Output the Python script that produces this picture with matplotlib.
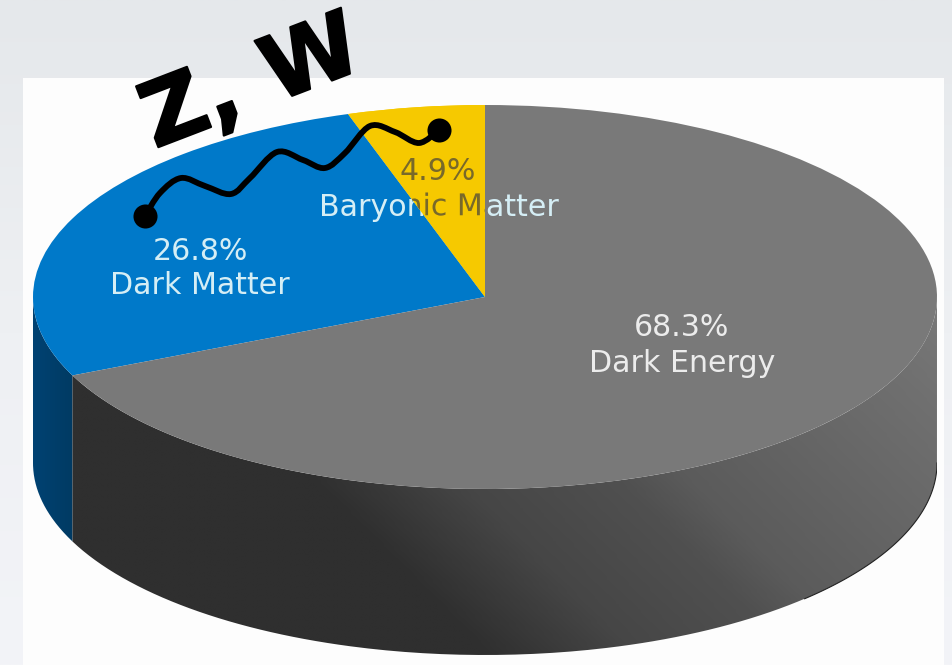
import numpy as np
import matplotlib
matplotlib.use("Agg")
import matplotlib.pyplot as plt
import matplotlib.patheffects as pe
from matplotlib.path import Path
from matplotlib.patches import Rectangle, PathPatch, Wedge
from matplotlib.colors import LinearSegmentedColormap
from matplotlib.font_manager import FontProperties
from matplotlib.textpath import TextPath
from matplotlib.transforms import IdentityTransform

# ---- data ----
categories = ["Baryonic Matter", "Dark Matter", "Dark Energy"]
percentages = [4.9, 26.8, 68.3]
top_colors = ["#f6c900", "#0079c9", "#797979"]
percent_labels = ["4.9%", "26.8%", "68.3%"]
boson_label = "Z, W"
squiggle_xs = [145, 160, 181, 205, 231, 250, 277, 303, 325, 345, 370, 395, 419, 439]
squiggle_ys = [216, 193, 178, 186, 194, 178, 152, 160, 168, 153, 126, 132, 143, 130]

W, H = 952, 665
cx, cy, rx, ry, depth_px = 485, 297, 452, 192, 166
fig = plt.figure(figsize=(W / 100, H / 100), dpi=100)

# page layer in pixel coordinates
bg = fig.add_axes([0, 0, 1, 1])
bg_cmap = LinearSegmentedColormap.from_list("bg", ["#e5e8eb", "#eef0f3", "#f3f4f8"])
bg.imshow(np.linspace(0, 1, 256)[:, None], extent=(0, W, H, 0), cmap=bg_cmap, aspect="auto", zorder=0)
bg.set_xlim(0, W)
bg.set_ylim(H, 0)
bg.axis("off")
bg.add_patch(Rectangle((23, 78), 921, 600, fc="#fdfdfd", ec="none", zorder=1))

# pie layer: unit circle squashed into the ellipse by the axes box
depth = depth_px / ry
left = (cx - rx) / W
bottom = (H - (cy + ry + depth_px)) / H
pie_ax = fig.add_axes([left, bottom, 2 * rx / W, (2 * ry + depth_px) / H])
wedges, _ = pie_ax.pie(percentages, colors=top_colors, startangle=90, counterclock=True, radius=1,
                       wedgeprops=dict(linewidth=0, zorder=5))
pie_ax.set_aspect("auto")
pie_ax.patch.set_alpha(0)

gray_cmap = LinearSegmentedColormap.from_list(
    "wall", [(0, "#2f2f2f"), (0.1875, "#464646"), (0.3875, "#505050"), (0.475, "#5b5b5b"),
             (0.875, "#707070"), (1, "#787878")])
blue_cmap = LinearSegmentedColormap.from_list("bwall", ["#004272", "#003a62", "#002e50"])


def wall(theta1, theta2, cmap, grad):
    t = np.radians(np.linspace(theta1, theta2, 200))
    xs = np.cos(t)
    ys = np.sin(t)
    poly = np.vstack([np.c_[xs, ys], np.c_[xs[::-1], ys[::-1] - depth]])
    patch = PathPatch(Path(np.vstack([poly, poly[:1]])), fc="none", ec="none", zorder=2)
    pie_ax.add_patch(patch)
    im = pie_ax.imshow(grad, extent=(-1, 1, -1 - depth, 1), cmap=cmap, vmin=0, vmax=1,
                       aspect="auto", origin="lower", zorder=2, interpolation="bilinear")
    im.set_clip_path(patch)


gx, gy = np.meshgrid(np.linspace(0, 1, 300), np.linspace(0, 1, 200))
for wedge, cm in zip(wedges, [None, blue_cmap, gray_cmap]):
    lo, hi = max(wedge.theta1 % 720, 180), min(wedge.theta2 % 720, 360)
    if hi <= lo:
        continue
    if cm is gray_cmap:
        grad = (2 * rx * gx + (2 * ry + depth_px) * gy - 622 + 170) / 800
    else:
        grad = gx / 0.09
    wall(lo, hi, cm, np.clip(grad, 0, 1))
pie_ax.set_xlim(-1, 1)
pie_ax.set_ylim(-1 - depth, 1)

# thin dark rim on the lower right of the wall
t = np.radians(np.linspace(315, 360, 100))
pie_ax.plot(np.cos(t), np.sin(t) - depth, color="#222222", lw=0.8, zorder=6)

# overlay layer in pixel coordinates
ov = fig.add_axes([0, 0, 1, 1])
ov.set_xlim(0, W)
ov.set_ylim(H, 0)
ov.axis("off")
ov.patch.set_alpha(0)

fs = 21.6
pale = "#d5eef5"
dark = "#78692a"
light = "#ececec"
ov.text(682, 328, percent_labels[2], ha="center", va="center", fontsize=fs, color=light, zorder=3)
ov.text(682, 364, categories[2], ha="center", va="center", fontsize=fs, color=light, zorder=3)
ov.text(200, 252, percent_labels[1], ha="center", va="center", fontsize=fs, color=pale, zorder=3)
ov.text(200, 286, categories[1], ha="center", va="center", fontsize=fs, color=pale, zorder=3)
ov.text(438, 171, percent_labels[0], ha="center", va="center", fontsize=fs, color=dark, zorder=6)
baryon = ov.text(439, 207, categories[0], ha="center", va="center", fontsize=fs, color=pale, zorder=3)

# the Baryonic Matter label turns dark where it crosses the yellow slice
overlay_wedge = Wedge((0, 0), 1, wedges[0].theta1, wedges[0].theta2, transform=pie_ax.transData,
                      fc=top_colors[0], ec="none", zorder=4)
ov.add_patch(overlay_wedge)
box = baryon.get_window_extent(fig.canvas.get_renderer())
tp = TextPath((0, 0), categories[0], size=fs * fig.dpi / 72, prop=FontProperties(family="DejaVu Sans"))
ext = tp.get_extents()
shifted = Path(tp.vertices + [box.x0 - ext.x0, box.y0 - ext.y0], tp.codes)
dark_part = PathPatch(shifted, fc=dark, ec="none", transform=IdentityTransform(), zorder=5)
ov.add_patch(dark_part)
dark_part.set_clip_path(overlay_wedge)

# squiggle boson line: smooth curve through the read points
pts = np.c_[squiggle_xs, squiggle_ys].astype(float)
padded = np.vstack([pts[0], pts, pts[-1]])
verts = [pts[0]]
codes = [Path.MOVETO]
for i in range(1, len(padded) - 2):
    verts += [padded[i] + (padded[i + 1] - padded[i - 1]) / 6,
              padded[i + 1] - (padded[i + 2] - padded[i]) / 6,
              padded[i + 1]]
    codes += [Path.CURVE4] * 3
ov.add_patch(PathPatch(Path(verts, codes), fc="none", ec="black", lw=4.2, capstyle="round", zorder=7))
ov.scatter([squiggle_xs[0], squiggle_xs[-1]], [squiggle_ys[0], squiggle_ys[-1]], s=300, color="black", lw=0, zorder=8)
ov.text(252, 85, boson_label, ha="center", va="center", fontsize=64, fontweight="bold", family="DejaVu Sans",
        rotation=21, rotation_mode="anchor", color="black", zorder=9,
        path_effects=[pe.withStroke(linewidth=1.5, foreground="black")])

fig.savefig("out.png", dpi=100)
